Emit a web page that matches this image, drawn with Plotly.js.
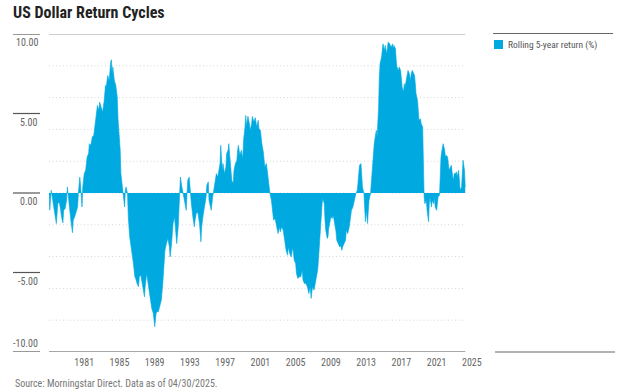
<!DOCTYPE html>
<html><head><meta charset="utf-8">
<script src="https://cdn.plot.ly/plotly-3.0.1.min.js"></script>
<style>html,body{margin:0;padding:0;background:#fff}#chart{width:625px;height:390px}</style>
</head><body><div id="chart"></div>
<script>
const chartTitle = 'US Dollar Return Cycles';
const seriesName = 'Rolling 5-year return (%)';
const sourceText = 'Source: Morningstar Direct. Data as of 04/30/2025.';

const dates = [
'1978-01','1978-02','1978-04','1978-05','1978-08','1978-10','1978-11','1979-01','1979-03','1979-05','1979-06','1979-08','1979-09','1979-11',
'1980-01','1980-02','1980-03','1980-05','1980-07','1980-09','1980-10','1980-12','1981-02','1981-04','1981-05','1981-06','1981-07','1981-08','1981-10','1981-11',
'1982-01','1982-03','1982-05','1982-07','1982-08','1982-10','1982-12','1983-02','1983-04','1983-05','1983-07','1983-09','1983-10','1983-12',
'1984-02','1984-04','1984-06','1984-07','1984-09','1984-11','1984-12','1985-01','1985-02','1985-03','1985-04','1985-06','1985-08','1985-10','1985-11',
'1986-01','1986-02','1986-03','1986-05','1986-07','1986-08','1986-09','1986-10','1986-12','1987-01','1987-03','1987-06','1987-08','1987-10','1987-11',
'1988-01','1988-03','1988-04','1988-06','1988-08','1988-09','1988-11','1988-12','1989-02','1989-04','1989-06','1989-07','1989-09','1989-11','1989-12',
'1990-01','1990-03','1990-04','1990-06','1990-08','1990-10','1990-12','1991-02','1991-03','1991-05','1991-07','1991-09','1991-10','1991-12',
'1992-02','1992-04','1992-06','1992-07','1992-09','1992-10','1992-11','1992-12','1993-02','1993-03','1993-05','1993-06','1993-08','1993-09','1993-10','1993-12',
'1994-01','1994-03','1994-05','1994-07','1994-08','1994-10','1994-12','1995-02','1995-04','1995-05','1995-07','1995-09','1995-11','1995-12',
'1996-02','1996-03','1996-04','1996-06','1996-08','1996-10','1996-12','1997-01','1997-03','1997-05','1997-06','1997-07','1997-09','1997-10','1997-12',
'1998-02','1998-03','1998-05','1998-06','1998-07','1998-09','1998-10','1998-12','1999-01','1999-03','1999-05','1999-06','1999-07','1999-09','1999-11',
'2000-01','2000-02','2000-04','2000-05','2000-06','2000-07','2000-08','2000-10','2000-11','2001-01','2001-02','2001-04','2001-06','2001-08','2001-10','2001-11',
'2002-01','2002-03','2002-05','2002-07','2002-09','2002-10','2002-12','2003-02','2003-04','2003-06','2003-07','2003-09','2003-11',
'2004-01','2004-03','2004-04','2004-06','2004-08','2004-10','2004-12','2005-02','2005-03','2005-05','2005-07','2005-09','2005-11',
'2006-01','2006-02','2006-04','2006-06','2006-08','2006-10','2006-11','2007-01','2007-03','2007-05','2007-07','2007-09','2007-10','2007-12',
'2008-02','2008-04','2008-06','2008-07','2008-08','2008-10','2008-11','2009-01','2009-02','2009-04','2009-05','2009-06','2009-08','2009-09','2009-10','2009-12',
'2010-01','2010-03','2010-04','2010-05','2010-07','2010-08','2010-09','2010-11','2011-01','2011-02','2011-04','2011-05','2011-07','2011-09','2011-10','2011-12',
'2012-02','2012-04','2012-05','2012-07','2012-08','2012-09','2012-11','2012-12','2013-01','2013-03','2013-04','2013-06','2013-07','2013-08','2013-10','2013-11','2013-12',
'2014-01','2014-03','2014-04','2014-05','2014-07','2014-08','2014-09','2014-11','2014-12','2015-02','2015-03','2015-04','2015-06','2015-07','2015-08','2015-10','2015-11','2015-12',
'2016-02','2016-03','2016-05','2016-06','2016-07','2016-09','2016-11','2017-01','2017-02','2017-03','2017-05','2017-06','2017-07','2017-09','2017-10','2017-12',
'2018-01','2018-02','2018-04','2018-05','2018-06','2018-08','2018-09','2018-10','2018-12','2019-01','2019-03','2019-04','2019-05','2019-07','2019-08','2019-09','2019-11','2019-12',
'2020-01','2020-03','2020-04','2020-06','2020-07','2020-08','2020-09','2020-11','2020-12','2021-01','2021-02','2021-03','2021-04','2021-06','2021-07','2021-09','2021-10','2021-11',
'2022-01','2022-02','2022-03','2022-05','2022-06','2022-07','2022-09','2022-10','2022-12','2023-01','2023-02','2023-04','2023-05','2023-06','2023-08','2023-09','2023-11','2023-12',
'2024-01','2024-03','2024-04','2024-05','2024-07','2024-08','2024-09','2024-11','2024-12','2025-01','2025-03','2025-04'
];

const returns = [
0.0,-1.08,0.17,-0.14,-1.08,-1.5,-1.92,-0.67,-0.56,-1.08,-1.5,-1.88,-1.08,-0.98,
-0.46,0.38,-0.14,-1.08,-1.81,-2.5,-1.71,-1.5,-1.19,-0.88,-0.04,0.9,1.0,0.49,-0.88,0.38,
1.22,1.43,2.27,2.48,3.1,3.0,3.52,3.63,4.36,4.78,5.51,5.2,5.72,5.41,
5.09,5.72,6.77,6.66,7.39,7.08,7.81,8.23,8.38,7.5,7.92,7.08,6.77,6.03,4.67,
3.52,2.68,1.22,0.38,-0.25,-0.88,0.17,0.38,-0.04,-1.5,-2.76,-3.6,-4.43,-5.27,-5.37,
-5.69,-5.9,-5.27,-5.17,-5.69,-6.11,-6.53,-5.9,-5.06,-5.69,-6.32,-6.84,-7.26,-7.57,-7.99,
-8.41,-7.57,-7.47,-7.47,-7.16,-6.74,-5.69,-4.43,-3.6,-3.18,-2.86,-3.39,-4.02,-3.18,
-1.92,-1.5,-2.34,-3.18,-2.13,-0.67,0.79,1.0,0.38,0.17,-0.25,-0.67,-1.09,-0.04,0.79,1.0,
0.17,-0.67,-1.5,-2.13,-1.71,-1.19,-1.29,-1.92,-3.07,-2.13,-1.4,-0.88,-0.25,0.49,
0.7,-0.46,-0.77,-1.09,-0.25,0.38,1.0,1.22,1.01,1.43,1.85,3.0,1.43,1.85,1.22,
1.64,2.48,2.69,3.1,2.48,1.43,0.8,0.59,1.43,1.85,2.06,2.69,3.0,2.37,2.69,
2.16,3.31,4.15,4.88,4.25,4.46,4.82,4.36,3.94,4.36,4.82,4.46,4.74,4.15,4.57,4.04,
3.94,3.1,2.58,1.64,1.85,1.53,0.59,-0.04,-0.46,-1.5,-1.71,-1.6,-2.13,
-2.55,-2.13,-2.44,-2.13,-2.34,-2.97,-3.6,-3.91,-3.39,-3.81,-4.02,-3.39,-4.23,
-4.43,-5.06,-5.37,-5.27,-5.27,-4.85,-5.48,-5.69,-5.69,-5.9,-6.32,-5.9,-6.63,-5.9,
-6.11,-5.69,-5.27,-4.85,-4.22,-2.76,-1.5,-0.67,-0.35,-0.67,-1.71,-2.34,-2.86,-2.76,-2.23,-1.81,
-1.5,-1.6,-1.4,-1.6,-2.03,-2.44,-2.97,-3.18,-3.39,-3.28,-3.6,-3.39,-3.18,-2.97,-2.34,-2.55,
-2.13,-1.5,-1.09,-0.88,-0.67,-0.25,-0.04,0.07,0.17,1.22,1.74,1.85,1.22,0.38,-0.04,-1.09,-1.81,
-1.09,-1.92,-1.09,-0.46,-0.04,0.59,1.64,2.69,3.1,3.73,3.94,3.52,5.41,7.29,8.13,8.55,8.96,9.38,
8.96,9.28,8.75,9.38,9.49,9.38,9.17,9.38,9.07,9.28,9.07,8.34,7.92,7.71,7.92,7.71,
7.29,6.66,6.35,6.87,6.66,7.08,7.29,7.71,7.5,7.08,7.6,7.71,7.6,7.39,6.87,6.24,5.82,5.4,
4.57,4.67,4.36,4.15,0.17,-0.25,-0.67,-0.46,-1.09,-1.5,-1.81,-0.67,-0.25,-0.88,-0.46,-0.67,-0.25,-0.88,
-1.09,-0.67,-0.25,-0.14,1.22,2.27,2.9,3.1,2.69,2.27,2.37,2.27,1.85,1.43,1.64,1.74,1.01,0.8,
1.22,1.22,1.33,1.01,1.43,0.59,0.17,0.38,1.43,2.06,1.43,0.38
];

const yTickVals = [10, 5, 0, -5, -10];
const yTickText = ['10.00', '5.00', '0.00', '-5.00', '-10.00'];
const gridVals = [8, 6, 4, 2, 0, -2, -4, -6, -8];
const xTickYears = [1981, 1985, 1989, 1993, 1997, 2001, 2005, 2009, 2013, 2017, 2021, 2025];

const BLUE = '#00A9E0';
const FONT = '"Roboto Condensed", "Liberation Sans Narrow", "DejaVu Sans Condensed", Roboto, sans-serif';
const W = 625, H = 390, L = 49, R = 152, T = 34, B = 38;
const PW = W - L - R, PH = H - T - B;
const pxX = x => (x - L) / PW;
const pxY = y => 1 - (y - T) / PH;
const first = dates[0], last = dates[dates.length - 1];

const shapes = [];
gridVals.forEach(v => shapes.push({type:'line', xref:'x', yref:'y', x0:first, x1:last, y0:v, y1:v,
  line:{color:'#d6d6d6', width:1, dash:'1px,2.5px'}, layer:'below'}));
shapes.push({type:'line', xref:'x', yref:'y', x0:first, x1:last, y0:10, y1:10, line:{color:'#bdbdbd', width:1.5}});
shapes.push({type:'line', xref:'x', yref:'y', x0:first, x1:last, y0:-10, y1:-10, line:{color:'#8a8a8a', width:1.5}});
yTickVals.forEach(v => shapes.push({type:'line', xref:'paper', yref:'y', x0:pxX(13), x1:pxX(40), y0:v, y1:v,
  line:{color:'#555', width:1.2}}));
shapes.push({type:'line', xref:'paper', yref:'paper', x0:pxX(493), x1:pxX(613), y0:pxY(33.5), y1:pxY(33.5), line:{color:'#666', width:1.2}});
shapes.push({type:'line', xref:'paper', yref:'paper', x0:pxX(495), x1:pxX(615), y0:pxY(352), y1:pxY(352), line:{color:'#666', width:1.2}});
shapes.push({type:'rect', xref:'paper', yref:'paper', x0:pxX(494), x1:pxX(503), y0:pxY(40), y1:pxY(49), fillcolor:BLUE, line:{width:0}});

const annotations = yTickVals.map((v, i) => ({
  xref:'paper', yref:'y', x:pxX(40), y:v, xanchor:'right', yanchor:'middle',
  yshift: v === -10 ? 9 : -8.5, text:yTickText[i], showarrow:false,
  font:{family:FONT, size:10, color:'#666'}
}));
annotations.push({xref:'paper', yref:'paper', x:pxX(506), y:pxY(44.5), xanchor:'left', yanchor:'middle',
  text:seriesName, showarrow:false, font:{family:FONT, size:9.5, color:'#555'}});
annotations.push({xref:'paper', yref:'paper', x:pxX(13), y:pxY(383), xanchor:'left', yanchor:'middle',
  text:sourceText, showarrow:false, font:{family:FONT, size:10, color:'#777'}});

const trace = {
  x: dates, y: returns, type:'scatter', mode:'lines', name:seriesName,
  fill:'tozeroy', fillcolor:BLUE, line:{color:BLUE, width:0.6, shape:'linear'},
  showlegend:false, hoverinfo:'skip'
};

const layout = {
  width:W, height:H, margin:{l:L, r:R, t:T, b:B},
  paper_bgcolor:'#fff', plot_bgcolor:'#fff',
  title:{text:'<b>' + chartTitle + '</b>', xref:'container', yref:'container', x:13/W, xanchor:'left',
    y:1 - 12/H, yanchor:'middle', font:{family:FONT, size:16, color:'#222'}},
  xaxis:{type:'date', range:['1978-01-01','2026-02-17'], tickvals:xTickYears.map(y => y + '-12-31'),
    ticktext:xTickYears.map(String), showgrid:false, zeroline:false, showline:false, ticks:'',
    ticklabelstandoff:3,
    tickfont:{family:FONT, size:10, color:'#666'}, fixedrange:true},
  yaxis:{range:[-10,10], showticklabels:false, showgrid:false, zeroline:false, showline:false, ticks:'', fixedrange:true},
  shapes, annotations, showlegend:false
};

Plotly.newPlot('chart', [trace], layout, {displayModeBar:false, staticPlot:true});
</script></body></html>
